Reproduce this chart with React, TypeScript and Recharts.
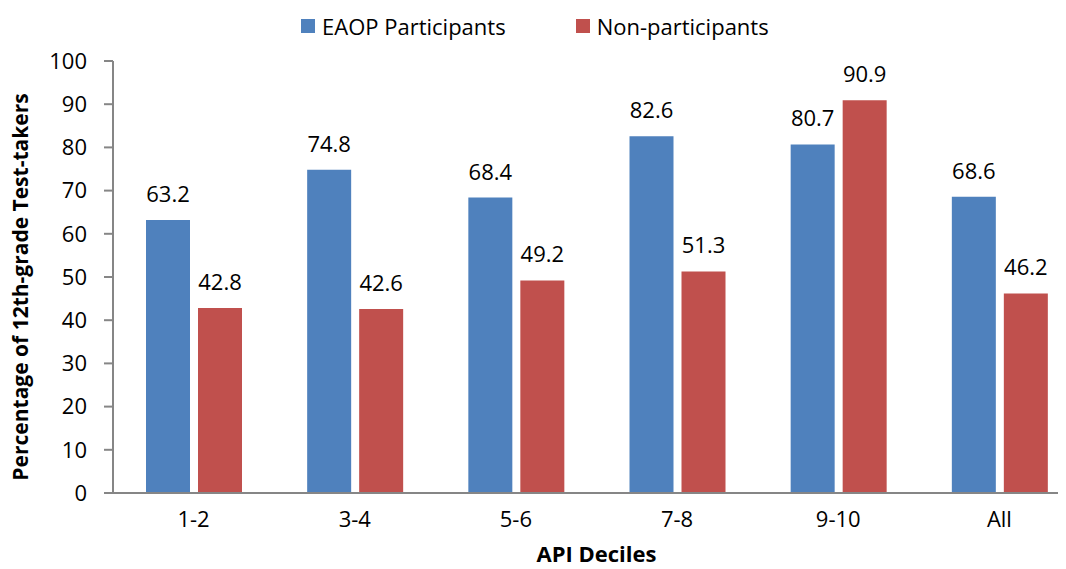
import React from "react";
import {
  BarChart,
  Bar,
  XAxis,
  YAxis,
  Legend,
  LabelList,
  Label,
} from "recharts";

const categories = ["1-2", "3-4", "5-6", "7-8", "9-10", "All"];
const participants = [63.2, 74.8, 68.4, 82.6, 80.7, 68.6];
const nonParticipants = [42.8, 42.6, 49.2, 51.3, 90.9, 46.2];
const yTicks = [0, 10, 20, 30, 40, 50, 60, 70, 80, 90, 100];

const BLUE = "#4F81BD";
const RED = "#C0504D";
const AXIS = "#868686";
const FONT = "'Open Sans', sans-serif";

const data = categories.map((name, i) => ({
  name,
  eaop: participants[i],
  non: nonParticipants[i],
}));

const renderLegend = () => (
  <div
    style={{
      position: "absolute",
      left: 301,
      top: 11,
      display: "flex",
      alignItems: "center",
      fontFamily: FONT,
      fontSize: 22,
      color: "#000",
    }}
  >
    <span style={{ width: 14, height: 14, background: BLUE, marginRight: 7 }} />
    <span>EAOP Participants</span>
    <span
      style={{ width: 14, height: 14, background: RED, marginLeft: 70, marginRight: 7 }}
    />
    <span>Non-participants</span>
  </div>
);

// rotated y-axis title, a bit below the plot's middle like the original
const renderYTitle = (props: any) => {
  const { viewBox } = props;
  const x = viewBox.x + 20;
  const y = viewBox.y + viewBox.height / 2 + 10;
  return (
    <text
      x={x}
      y={y}
      transform={`rotate(-90, ${x}, ${y})`}
      textAnchor="middle"
      fill="#000"
      fontSize={21}
      fontWeight={700}
      fontFamily={FONT}
    >
      Percentage of 12th-grade Test-takers
    </text>
  );
};

export default function App() {
  return (
    <div style={{ margin: "-8px 0 0 -8px", width: 1066, height: 569, overflow: "hidden" }}>
      <BarChart
        width={1083}
        height={569}
        data={data}
        margin={{ top: 61, right: 3, bottom: 0, left: 8 }}
        barSize={44}
        barGap={8}
      >
        <XAxis
          dataKey="name"
          stroke={AXIS}
          strokeWidth={2}
          tickLine={false}
          tickMargin={12}
          height={76}
          tick={{ fill: "#000", fontSize: 22, fontFamily: FONT }}
        >
          <Label
            value="API Deciles"
            position="insideBottom"
            offset={7}
            style={{ fill: "#000", fontSize: 22, fontWeight: 700, fontFamily: FONT }}
          />
        </XAxis>
        <YAxis
          domain={[0, 100]}
          ticks={yTicks}
          interval={0}
          width={105}
          stroke={AXIS}
          strokeWidth={2}
          tickSize={9}
          tickMargin={17}
          tick={{ fill: "#000", fontSize: 22, fontFamily: FONT }}
        >
          <Label content={renderYTitle} />
        </YAxis>
        <Legend verticalAlign="top" content={renderLegend} wrapperStyle={{ top: 0, left: 0 }} />
        <Bar dataKey="eaop" name="EAOP Participants" fill={BLUE} isAnimationActive={false}>
          <LabelList
            dataKey="eaop"
            position="top"
            offset={18}
            style={{ fill: "#000", fontSize: 22, fontFamily: FONT }}
          />
        </Bar>
        <Bar dataKey="non" name="Non-participants" fill={RED} isAnimationActive={false}>
          <LabelList
            dataKey="non"
            position="top"
            offset={18}
            style={{ fill: "#000", fontSize: 22, fontFamily: FONT }}
          />
        </Bar>
      </BarChart>
    </div>
  );
}
